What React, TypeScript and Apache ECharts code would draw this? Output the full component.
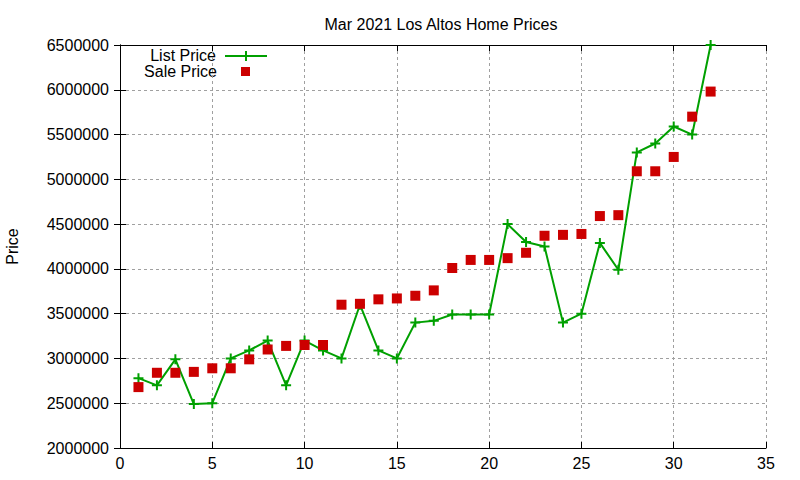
import React, { useEffect, useRef } from "react";
import * as echarts from "echarts";

const days: number[] = [1,2,3,4,5,6,7,8,9,10,11,12,13,14,15,16,17,18,19,20,21,22,23,24,25,26,27,28,29,30,31,32];
const listPrice: number[] = [2780000,2700000,2990000,2490000,2500000,3000000,3090000,3200000,2700000,3200000,3090000,3000000,3600000,3090000,3000000,3400000,3420000,3490000,3490000,3490000,4500000,4300000,4250000,3400000,3500000,4290000,3990000,5300000,5400000,5590000,5500000,6500000];
const salePrice: number[] = [2680000,2840000,2840000,2850000,2890000,2890000,2990000,3100000,3140000,3150000,3150000,3600000,3610000,3660000,3670000,3700000,3760000,4010000,4100000,4100000,4120000,4180000,4370000,4380000,4390000,4590000,4600000,5090000,5090000,5250000,5700000,5980000];
const titleText = "Mar 2021 Los Altos Home Prices";
const seriesNames = ["List Price", "Sale Price"];
const yName = "Price";

const FONT = "'Liberation Sans', Arial, sans-serif";
const FS = 16;
const GREEN = "#00a000";
const RED = "#cc0000";
const CROSS = "path://M4,0H6V4H10V6H6V10H4V6H0V4H4Z";

export default function App() {
  const ref = useRef<HTMLDivElement>(null);
  useEffect(() => {
    if (!ref.current) return;
    document.body.style.margin = "0";
    const chart = echarts.init(ref.current, null, { renderer: "svg" });
    const axisCommon = {
      type: "value" as const,
      axisLine: { show: true, lineStyle: { color: "#000", width: 1 } },
      axisTick: { show: true, inside: true, length: 6, lineStyle: { color: "#000" } },
    };
    const gridLine = { show: true, lineStyle: { color: "#a0a0a0", type: [3, 3], width: 1 } };
    chart.setOption({
      animation: false,
      backgroundColor: "#fff",
      title: {
        text: titleText,
        left: 436,
        top: 11,
        textAlign: "center",
        textStyle: { fontFamily: FONT, fontSize: FS, fontWeight: "normal", color: "#000" },
      },
      grid: { left: 120, right: 34, top: 45, bottom: 32, containLabel: false, outerBoundsMode: "none" },
      xAxis: [
        {
          ...axisCommon,
          min: 0,
          max: 35,
          interval: 5,
          position: "bottom",
          axisLabel: { fontFamily: FONT, fontSize: FS, color: "#000", margin: 7 },
          splitLine: gridLine,
        },
        {
          ...axisCommon,
          min: 0,
          max: 35,
          interval: 5,
          position: "top",
          axisLabel: { show: false },
          splitLine: { show: false },
        },
      ],
      yAxis: [
        {
          ...axisCommon,
          min: 2000000,
          max: 6500000,
          interval: 500000,
          position: "left",
          name: yName,
          nameLocation: "middle",
          nameGap: 100,
          nameRotate: 90,
          nameTextStyle: { fontFamily: FONT, fontSize: FS, color: "#000" },
          axisLabel: {
            fontFamily: FONT,
            fontSize: FS,
            color: "#000",
            margin: 11,
            formatter: (v: number) => String(v),
          },
          splitLine: gridLine,
        },
        {
          ...axisCommon,
          min: 2000000,
          max: 6500000,
          interval: 500000,
          position: "right",
          axisLabel: { show: false },
          splitLine: { show: false },
        },
      ],
      series: [
        {
          name: seriesNames[0],
          type: "line",
          xAxisIndex: 0,
          yAxisIndex: 0,
          data: days.map((d, i) => [d, listPrice[i]]),
          lineStyle: { color: GREEN, width: 2 },
          itemStyle: { color: GREEN, opacity: 1 },
          symbol: CROSS,
          symbolSize: 10,
          showAllSymbol: true,
          z: 2,
        },
        {
          name: seriesNames[1],
          type: "scatter",
          xAxisIndex: 0,
          yAxisIndex: 0,
          data: days.map((d, i) => [d, salePrice[i]]),
          itemStyle: { color: RED, opacity: 1 },
          symbol: "rect",
          symbolSize: 10,
          z: 3,
        },
      ],
      graphic: [
        {
          type: "text",
          x: 216,
          y: 55,
          style: { text: seriesNames[0], fill: "#000", font: `${FS}px ${FONT}`, textAlign: "right", textVerticalAlign: "middle" },
        },
        {
          type: "text",
          x: 217,
          y: 71,
          style: { text: seriesNames[1], fill: "#000", font: `${FS}px ${FONT}`, textAlign: "right", textVerticalAlign: "middle" },
        },
        {
          type: "line",
          shape: { x1: 225, y1: 56, x2: 267, y2: 56 },
          style: { stroke: GREEN, lineWidth: 2 },
        },
        {
          type: "line",
          shape: { x1: 246, y1: 51, x2: 246, y2: 61 },
          style: { stroke: GREEN, lineWidth: 2 },
        },
        {
          type: "rect",
          shape: { x: 241, y: 67, width: 9, height: 9 },
          style: { fill: RED },
        },
      ],
    });
    return () => chart.dispose();
  }, []);
  return <div ref={ref} style={{ width: 800, height: 480 }} />;
}
